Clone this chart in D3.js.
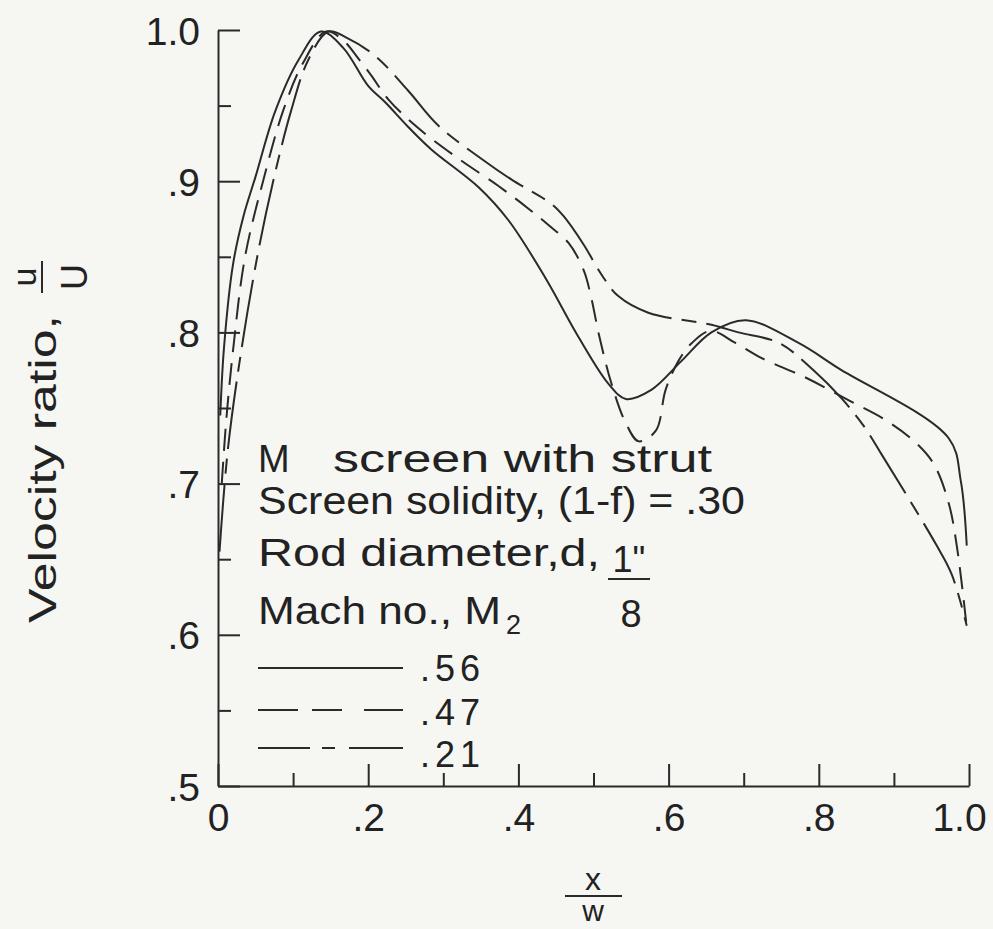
<!DOCTYPE html>
<html>
<head>
<meta charset="utf-8">
<script src="https://cdn.jsdelivr.net/npm/d3@7"></script>
<style>
  body { margin:0; background:#f6f6f3; }
  svg { display:block; background:#f6f6f3; }
  text { font-family:"Liberation Sans", Arial, sans-serif; fill:#222; }
  .axis path, .axis line { stroke:#2a2a2a; stroke-width:2; }
  .axis text { font-size:39px; fill:#222; font-family:"Liberation Sans", Arial, sans-serif; }
  .curve { fill:none; stroke:#2a2a2a; stroke-width:2; }
</style>
</head>
<body>
<div id="chart"></div>
<script>
var svgW = 993, svgH = 929;

// tick values
var xMajor = [0, 0.2, 0.4, 0.6, 0.8, 1.0];
var xMinor = [0.1, 0.3, 0.5, 0.7, 0.9];
var yMajor = [0.5, 0.6, 0.7, 0.8, 0.9, 1.0];
var yMinor = [0.55, 0.65, 0.75, 0.85, 0.95];

// Mach numbers in the legend
var machLabels = ['.56', '.47', '.21'];

// velocity ratio u/U against x/w, one array per Mach number
var mach56 = [[0.003,0.745],[0.008,0.790],[0.020,0.845],[0.034,0.877],[0.050,0.903],[0.076,0.946],
  [0.107,0.980],[0.137,0.999],[0.167,0.988],[0.200,0.963],[0.223,0.952],[0.253,0.936],[0.284,0.921],
  [0.347,0.896],[0.387,0.874],[0.436,0.836],[0.480,0.797],[0.520,0.766],[0.543,0.756],[0.577,0.762],
  [0.617,0.781],[0.657,0.800],[0.703,0.808],[0.773,0.793],[0.827,0.776],[0.973,0.730],[0.989,0.702],
  [0.997,0.659]];

var mach47 = [[0.005,0.700],[0.011,0.742],[0.020,0.788],[0.036,0.850],[0.060,0.900],[0.087,0.947],
  [0.113,0.978],[0.144,0.999],[0.167,0.993],[0.187,0.981],[0.204,0.970],[0.227,0.954],[0.267,0.935],
  [0.320,0.915],[0.373,0.897],[0.413,0.882],[0.440,0.871],[0.467,0.859],[0.487,0.841],[0.497,0.823],
  [0.507,0.799],[0.524,0.766],[0.543,0.740],[0.560,0.728],[0.583,0.735],[0.596,0.762],[0.613,0.781],
  [0.631,0.793],[0.656,0.801],[0.689,0.793],[0.724,0.783],[0.783,0.770],[0.840,0.755],[0.889,0.742],
  [0.927,0.728],[0.953,0.713],[0.973,0.687],[0.984,0.658],[0.997,0.605]];

var mach21 = [[0.002,0.655],[0.013,0.722],[0.031,0.788],[0.053,0.852],[0.073,0.899],[0.097,0.946],
  [0.120,0.980],[0.147,0.999],[0.171,0.995],[0.209,0.983],[0.253,0.960],[0.293,0.937],[0.353,0.914],
  [0.391,0.901],[0.444,0.885],[0.460,0.877],[0.487,0.858],[0.511,0.838],[0.533,0.824],[0.573,0.813],
  [0.657,0.805],[0.693,0.800],[0.747,0.793],[0.793,0.775],[0.831,0.756],[0.860,0.738],[0.884,0.719],
  [0.957,0.659],[0.977,0.640],[0.997,0.606]];

var series = [
  {name:'.56', data:mach56, dash:null,            legendDash:null},
  {name:'.47', data:mach47, dash:'22,11',         legendDash:'40,14,30,22,40'},
  {name:'.21', data:mach21, dash:'68,10,15,10',   legendDash:'52,12,13,14,60'}
];

var svg = d3.select('#chart').append('svg')
  .attr('width', svgW)
  .attr('height', svgH);

var x = d3.scaleLinear().domain([0, 1]).range([218, 969]);
var y = d3.scaleLinear().domain([0.5, 1]).range([786, 30]);

function fmt(d){
  if (d === 0) return '0';
  if (d === 1) return '1.0';
  return d3.format('.1f')(d).replace(/^0/, '');
}

// y axis, ticks point inward
svg.append('g').attr('class','axis')
  .attr('transform','translate(' + x(0) + ',0)')
  .call(d3.axisLeft(y).tickValues(yMajor).tickSize(-22).tickSizeOuter(0).tickPadding(18).tickFormat(fmt))
  .call(function(g){ g.selectAll('text').attr('dy','0.36em'); });

svg.append('g').attr('class','axis')
  .attr('transform','translate(' + x(0) + ',0)')
  .call(d3.axisLeft(y).tickValues(yMinor).tickSize(-13).tickSizeOuter(0).tickFormat(''))
  .select('.domain').remove();

// x axis
svg.append('g').attr('class','axis')
  .attr('transform','translate(0,' + y(0.5) + ')')
  .call(d3.axisBottom(x).tickValues(xMajor).tickSize(-22).tickSizeOuter(0).tickPadding(17).tickFormat(fmt))
  .call(function(g){
    // keep the last label inside the page
    g.selectAll('.tick text').filter(function(d){ return d === 1; }).attr('dx', -10);
  });

svg.append('g').attr('class','axis')
  .attr('transform','translate(0,' + y(0.5) + ')')
  .call(d3.axisBottom(x).tickValues(xMinor).tickSize(-13).tickSizeOuter(0).tickFormat(''))
  .select('.domain').remove();

// curves
var line = d3.line()
  .x(function(d){ return x(d[0]); })
  .y(function(d){ return y(d[1]); })
  .curve(d3.curveCatmullRom.alpha(0.5));

svg.append('g').selectAll('path')
  .data(series)
  .enter()
  .append('path')
    .attr('class','curve')
    .attr('d', function(d){ return line(d.data); })
    .attr('stroke-dasharray', function(d){ return d.dash; });

// note block inside the plot
var note = svg.append('g').style('font-size','38px');
var l1 = note.append('text').attr('y',472);
l1.append('tspan').attr('x',258).text('M ');
l1.append('tspan').attr('x',333).attr('textLength',379).attr('lengthAdjust','spacingAndGlyphs').text('screen with strut');
note.append('text').attr('x',258).attr('y',514).attr('textLength',487).attr('lengthAdjust','spacingAndGlyphs')
  .text('Screen solidity, (1-f) = .30');
note.append('text').attr('x',258).attr('y',566).attr('textLength',342).attr('lengthAdjust','spacingAndGlyphs')
  .text('Rod diameter,d,');
// 1"/8 fraction
note.append('text').attr('x',629).attr('y',572).attr('text-anchor','middle').style('font-size','36px').text('1"');
note.append('line').attr('x1',608).attr('x2',650).attr('y1',579).attr('y2',579)
  .attr('stroke','#2a2a2a').attr('stroke-width',2);
note.append('text').attr('x',631).attr('y',627).attr('text-anchor','middle').style('font-size','38px').text('8');
note.append('text').attr('x',258).attr('y',624).attr('textLength',243).attr('lengthAdjust','spacingAndGlyphs')
  .text('Mach no., M');
note.append('text').attr('x',506).attr('y',634).style('font-size','27px').text('2');

// legend
var legend = svg.append('g').selectAll('g')
  .data(series)
  .enter()
  .append('g')
    .attr('transform', function(d, i){ return 'translate(258,' + [668, 710, 748][i] + ')'; });

legend.append('line')
  .attr('x1',0).attr('x2',145).attr('y1',0).attr('y2',0)
  .attr('stroke','#2a2a2a').attr('stroke-width',2)
  .attr('stroke-dasharray', function(d){ return d.legendDash; });

legend.append('text')
  .attr('x',162).attr('y',function(d, i){ return [13, 15, 19][i]; })
  .style('font-size','36px')
  .style('letter-spacing','5px')
  .text(function(d, i){ return machLabels[i]; });

// y axis title, rotated
var yt = svg.append('g').attr('transform','translate(56,623) rotate(-90)');
yt.append('text').attr('x',0).attr('y',0).attr('textLength',308).attr('lengthAdjust','spacingAndGlyphs')
  .style('font-size','38px').text('Velocity ratio,');
yt.append('text').attr('x',346).attr('y',-20).attr('text-anchor','middle').style('font-size','34px').text('u');
yt.append('line').attr('x1',330).attr('x2',362).attr('y1',-14).attr('y2',-14)
  .attr('stroke','#2a2a2a').attr('stroke-width',2);
yt.append('text').attr('x',346).attr('y',31).attr('text-anchor','middle').style('font-size','36px').text('U');

// x axis title
svg.append('text').attr('x',593).attr('y',890).attr('text-anchor','middle').style('font-size','32px').text('x');
svg.append('line').attr('x1',565).attr('x2',622).attr('y1',896).attr('y2',896)
  .attr('stroke','#2a2a2a').attr('stroke-width',2);
svg.append('text').attr('x',593).attr('y',921).attr('text-anchor','middle').style('font-size','30px').text('w');
</script>
</body>
</html>
